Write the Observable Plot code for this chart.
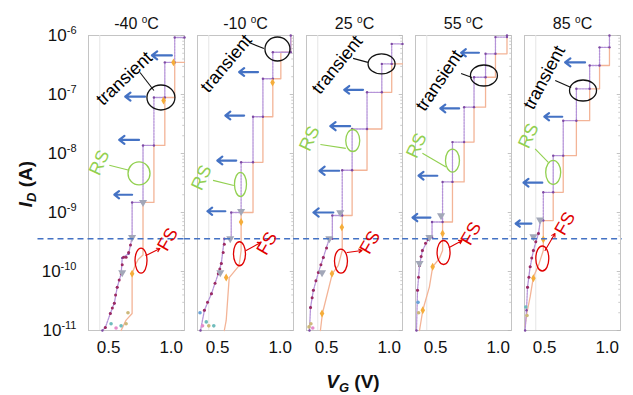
<!DOCTYPE html>
<html><head><meta charset="utf-8">
<script src="https://cdn.jsdelivr.net/npm/d3@7"></script>
<script src="https://cdn.jsdelivr.net/npm/@observablehq/plot@0.6"></script>
<style>body{margin:0;background:#fff;}</style>
</head><body><div id="chart"></div>
<script>
// ---------- data (V_G in volts, I_D in amperes) ----------
const temps = ["-40", "-10", "25", "55", "85"];
const yTicks = [1e-6, 1e-7, 1e-8, 1e-9, 1e-10, 1e-11];
const xTicks = [0.5, 1.0];

// purple (dotted) sweep per temperature
const purpleM40 = [[0.451,1e-11],[0.474,1.12e-11],[0.514,1.94e-11],[0.546,2.9e-11],[0.569,5.4e-11],[0.601,9.2e-11],[0.609,1.7e-10],[0.66,2.0e-10],[0.688,3.8e-10],[0.688,1.48e-9],[0.775,1.48e-9],[0.775,1.37e-8],[0.862,1.37e-8],[0.862,8.9e-8],[0.949,8.9e-8],[0.949,3.5e-7],[1.028,3.5e-7],[1.028,9.25e-7],[1.106,9.25e-7]];
const purpleM10 = [[0.364,1e-11],[0.395,2.2e-11],[0.451,4.2e-11],[0.506,9.2e-11],[0.530,1.37e-10],[0.554,3.6e-10],[0.609,3.6e-10],[0.609,1.0e-9],[0.688,1.0e-9],[0.688,7.1e-9],[0.783,7.1e-9],[0.783,4.2e-8],[0.862,4.2e-8],[0.862,1.85e-7],[0.941,1.85e-7],[0.941,5.2e-7],[1.084,5.2e-7],[1.084,1e-6]];
const purpleP25 = [[0.364,1e-11],[0.372,2.45e-11],[0.395,4.8e-11],[0.435,9.6e-11],[0.474,1.73e-10],[0.522,3.6e-10],[0.546,3.6e-10],[0.546,8.9e-10],[0.625,8.9e-10],[0.625,5.2e-9],[0.704,5.2e-9],[0.704,2.6e-8],[0.823,2.6e-8],[0.823,1.09e-7],[0.941,1.09e-7],[0.941,3.3e-7],[1.020,3.3e-7],[1.020,7.2e-7],[1.106,7.2e-7]];
const purpleP55 = [[0.348,1e-11],[0.356,4.8e-11],[0.372,1.26e-10],[0.395,2.27e-10],[0.451,3.8e-10],[0.472,3.8e-10],[0.472,6.9e-10],[0.556,6.9e-10],[0.556,3.3e-9],[0.635,3.3e-9],[0.635,1.56e-8],[0.728,1.56e-8],[0.728,6.1e-8],[0.807,6.1e-8],[0.807,1.96e-7],[0.899,1.96e-7],[0.899,4.9e-7],[0.978,4.9e-7],[0.978,9.4e-7],[1.07,9.4e-7],[1.07,1e-6]];
const purpleP85 = [[0.345,1e-11],[0.356,2.2e-11],[0.364,5.4e-11],[0.385,1.2e-10],[0.411,2.27e-10],[0.451,4.4e-10],[0.467,7.3e-10],[0.490,7.3e-10],[0.490,2.2e-9],[0.569,2.2e-9],[0.569,9.2e-9],[0.649,9.2e-9],[0.649,3.6e-8],[0.754,3.6e-8],[0.754,1.25e-7],[0.860,1.25e-7],[0.860,3.1e-7],[0.939,3.1e-7],[0.939,6.3e-7],[1.018,6.3e-7],[1.018,1e-6]];

// orange (solid) sweep per temperature
const orangeM40 = [[0.60,1e-11],[0.64,1.5e-11],[0.688,1.94e-11],[0.688,9.2e-11],[0.712,1.26e-10],[0.736,1.6e-10],[0.775,1.9e-10],[0.775,1.48e-9],[0.862,1.48e-9],[0.862,1.37e-8],[0.949,1.37e-8],[0.949,8.9e-8],[1.028,8.9e-8],[1.028,3.5e-7],[1.106,3.5e-7]];
const orangeM10 = [[0.554,1e-11],[0.569,1.48e-11],[0.593,7.9e-11],[0.672,1.26e-10],[0.688,2.27e-10],[0.688,1.0e-9],[0.783,1.0e-9],[0.783,7.1e-9],[0.862,7.1e-9],[0.862,4.2e-8],[0.941,4.2e-8],[0.941,1.85e-7],[1.005,1.85e-7],[1.005,5.2e-7],[1.084,5.2e-7],[1.084,1e-6]];
const orangeP25 = [[0.451,1e-11],[0.467,1.94e-11],[0.546,9.2e-11],[0.593,1.26e-10],[0.625,2.27e-10],[0.625,8.9e-10],[0.704,8.9e-10],[0.704,5.2e-9],[0.823,5.2e-9],[0.823,2.6e-8],[0.941,2.6e-8],[0.941,1.09e-7],[1.020,1.09e-7],[1.020,3.3e-7],[1.106,3.3e-7]];
const orangeP55 = [[0.372,1e-11],[0.398,2.2e-11],[0.451,5.5e-11],[0.477,1.2e-10],[0.530,1.66e-10],[0.556,2.27e-10],[0.556,6.9e-10],[0.635,6.9e-10],[0.635,3.3e-9],[0.728,3.3e-9],[0.728,1.56e-8],[0.807,1.56e-8],[0.807,6.1e-8],[0.899,6.1e-8],[0.899,1.96e-7],[0.978,1.96e-7],[0.978,4.9e-7],[1.07,4.9e-7],[1.07,9.4e-7]];
const orangeP85 = [[0.345,1.2e-11],[0.358,1.94e-11],[0.385,3.7e-11],[0.411,8.1e-11],[0.451,1.26e-10],[0.490,2.27e-10],[0.490,7.3e-10],[0.569,7.3e-10],[0.569,2.2e-9],[0.649,2.2e-9],[0.649,9.2e-9],[0.754,9.2e-9],[0.754,3.6e-8],[0.860,3.6e-8],[0.860,1.25e-7],[0.939,1.25e-7],[0.939,3.1e-7],[1.018,3.1e-7],[1.018,6.3e-7]];

// scattered measurement markers near the bottom
const crimsonPts = [
 ["-40",0.474,1.12e-11],["-40",0.514,1.94e-11],["-40",0.530,2.4e-11],["-40",0.546,2.9e-11],["-40",0.556,4.0e-11],["-40",0.569,5.4e-11],["-40",0.585,7.2e-11],["-40",0.601,9.2e-11],["-40",0.609,1.3e-10],["-40",0.62,1.75e-10],["-40",0.64,1.75e-10],["-40",0.66,2.1e-10],["-40",0.675,2.8e-10],
 ["-10",0.395,2.2e-11],["-10",0.42,3.0e-11],["-10",0.451,4.2e-11],["-10",0.48,6.3e-11],["-10",0.506,9.2e-11],["-10",0.518,1.1e-10],["-10",0.530,1.37e-10],["-10",0.545,2.1e-10],["-10",0.554,2.9e-10],
 ["25",0.372,2.45e-11],["25",0.385,3.6e-11],["25",0.395,4.8e-11],["25",0.415,7e-11],["25",0.435,9.6e-11],["25",0.455,1.3e-10],["25",0.474,1.73e-10],["25",0.50,2.5e-10],
 ["55",0.356,4.8e-11],["55",0.364,8e-11],["55",0.372,1.26e-10],["55",0.385,1.8e-10],["55",0.395,2.27e-10],["55",0.42,3.0e-10],["55",0.44,3.5e-10],
 ["85",0.364,5.4e-11],["85",0.375,8e-11],["85",0.385,1.2e-10],["85",0.398,1.7e-10],["85",0.411,2.27e-10],["85",0.43,3.2e-10],["85",0.451,4.4e-10]];
const grayTriPts = [
 ["-40",0.688,3.8e-10],["-40",0.609,9.6e-11],["-40",0.775,1.48e-9],
 ["-10",0.601,3.6e-10],["-10",0.522,9.6e-11],["-10",0.688,1.05e-9],
 ["25",0.522,3.6e-10],["25",0.609,1.0e-9],["25",0.464,9.6e-11],
 ["55",0.451,3.8e-10],["55",0.544,8.9e-10],["55",0.372,1.37e-10],
 ["85",0.464,7.5e-10],["85",0.411,3.9e-10]];
const orangePts = [
 ["-40",0.688,9.2e-11],["-40",1.018,3.5e-7],["-40",0.939,7.9e-8],
 ["-10",0.688,6.9e-10],["-10",0.569,7.9e-11],["-10",0.939,1.6e-7],
 ["25",0.622,5.6e-10],["25",0.543,9.2e-11],["25",0.464,1.94e-11],
 ["55",0.556,4.4e-10],["55",0.477,1.2e-10],["55",0.398,2.2e-11],
 ["85",0.490,3.5e-10],["85",0.411,7.7e-11]];
const mixedPts = [
 ["-40",0.52,1.3e-11,"teal"],["-40",0.56,1.1e-11,"pink"],["-40",0.64,1.3e-11,"olive"],["-40",0.60,1.2e-11,"teal"],["-40",0.655,2.0e-11,"olive"],
 ["-10",0.38,1.2e-11,"pink"],["-10",0.41,1.4e-11,"teal"],["-10",0.43,1.2e-11,"olive"],["-10",0.47,1.2e-11,"teal"],["-10",0.36,2e-11,"blue"],
 ["25",0.36,1.15e-11,"olive"],["25",0.375,1.3e-11,"olive"],["25",0.39,1.1e-11,"pink"],
 ["55",0.36,3e-11,"blue"],["55",0.365,2e-11,"olive"],
 ["85",0.35,2.5e-11,"teal"],["85",0.36,1.8e-11,"olive"]];

// blue arrows: [temp, start V, end V, I]
const blueArrows = [
 ["-40",1.005,0.846,4.6e-7],["-40",0.791,0.633,9.2e-8],["-40",0.743,0.585,1.7e-8],["-40",0.688,0.546,2.0e-9],
 ["-10",0.823,0.672,2.4e-7],["-10",0.712,0.562,4.4e-8],["-10",0.649,0.498,7.6e-9],["-10",0.562,0.419,1.05e-9],
 ["25",0.791,0.641,1.2e-7],["25",0.688,0.530,2.9e-8],["25",0.601,0.443,5.1e-9],["25",0.554,0.395,1.0e-9],
 ["55",0.846,0.704,5.1e-7],["55",0.688,0.538,5.8e-8],["55",0.514,0.364,4.2e-9],["55",0.459,0.316,8.2e-10],
 ["85",0.823,0.664,3.5e-7],["85",0.641,0.498,4.2e-8],["85",0.482,0.332,3.2e-9],["85",0.395,0.269,6.5e-10]];

// dashed reference level
const dashLevel = 3.6e-10;
const dashSpan = [["-40",-0.063,1.106],["-10",0.237,1.106],["25",0.237,1.106],["55",0.237,1.106],["85",0.237,1.12]];

// annotation anchors: [temp, V, I]
const transientAt = [["-40",0.918,8.9e-8],["-10",0.978,5.9e-7],["25",0.939,3.3e-7],["55",0.886,2.1e-7],["85",0.807,1.17e-7]];
const rsAt = [["-40",0.743,4.6e-9],["-10",0.683,3.0e-9],["25",0.709,1.66e-8],["55",0.635,7.6e-9],["85",0.569,4.8e-9]];
const fsAt = [["-40",0.759,1.53e-10],["-10",0.675,2.0e-10],["25",0.615,1.5e-10],["55",0.564,2.1e-10],["85",0.482,1.66e-10]];
// leader lines: [temp, V1, I1, V2, I2]
const transientLeader = [["-40",0.862,1.17e-7,0.751,2.36e-7],["-10",0.870,6.0e-7,0.751,7.6e-7],["25",0.830,3.5e-7,0.712,4.1e-7],["55",0.791,1.94e-7,0.704,2.27e-7],["85",0.712,1.31e-7,0.585,1.73e-7]];
const rsLeader = [["-40",0.664,5.2e-9,0.506,6.3e-9],["-10",0.630,2.87e-9,0.464,3.5e-9],["25",0.654,1.22e-8,0.451,1.42e-8],["55",0.583,5.9e-9,0.395,1.01e-8],["85",0.530,7.1e-9,0.425,1.2e-8]];
const fsLeader = [["-40",0.799,1.87e-10,0.910,2.45e-10],["-10",0.728,2.27e-10,0.846,3.1e-10],["25",0.664,2.1e-10,0.783,2.27e-10],["55",0.609,2.55e-10,0.712,3.35e-10],["85",0.504,2.27e-10,0.583,4.4e-10]];
// label positions: [temp, V, I]
const transientLabel = [["-40",0.625,1.87e-7],["-10",0.569,3.35e-7],["25",0.585,3.2e-7],["55",0.530,1.73e-7],["85",0.498,1.94e-7]];
const rsLabel = [["-40",0.427,7.0e-9],["-10",0.372,3.9e-9],["25",0.364,1.8e-8],["55",0.348,1.37e-8],["85",0.372,2.0e-8]];
const fsLabel = [["-40",0.973,3.5e-10],["-10",0.894,3.0e-10],["25",0.846,3.1e-10],["55",0.783,4.4e-10],["85",0.664,6.5e-10]];

// ---------- styles ----------
const transientAngle = [-43, -50, -51, -56, -62];
const transientSize = [[14,12.5],[12.5,12],[13.5,10],[13.5,10.5],[13.5,10.5]];
const rsSize = [[11,11.5],[6,12],[7,11],[7,11.5],[7.5,12]];
const fsSize = [[6,12.5],[6,12],[6.5,12],[6.5,12],[6.5,12.5]];
const C = {purple:"#b593d8", purpleDot:"#7e4aa3", orange:"#f3b497", blue:"#4472c4", green:"#92d050", red:"#e00000", crimson:"#9c2a62"};

// ---------- build tables ----------
const purpleBy = {"-40": purpleM40, "-10": purpleM10, "25": purpleP25, "55": purpleP55, "85": purpleP85};
const orangeBy = {"-40": orangeM40, "-10": orangeM10, "25": orangeP25, "55": orangeP55, "85": orangeP85};
const sweepRows = by => temps.flatMap(t => by[t].map(([v, i]) => ({t, v, i})));
const purpleRows = sweepRows(purpleBy), orangeRows = sweepRows(orangeBy);
const pts = arr => arr.map(([t, v, i, k]) => ({t, v, i, k}));
const seg = arr => arr.map(([t, a, ia, b, ib]) => ({t, a, ia, b, ib}));
const minorTicks = [];
for (let e = -11; e < -6; e++) for (let m = 2; m <= 9; m++) minorTicks.push(m * Math.pow(10, e));

function ellipseSymbol(rx, ry) {
  const k = 0.5523;
  return {draw(c) {
    c.moveTo(rx, 0);
    c.bezierCurveTo(rx, ry * k, rx * k, ry, 0, ry);
    c.bezierCurveTo(-rx * k, ry, -rx, ry * k, -rx, 0);
    c.bezierCurveTo(-rx, -ry * k, -rx * k, -ry, 0, -ry);
    c.bezierCurveTo(rx * k, -ry, rx, -ry * k, rx, 0);
    c.closePath();
  }};
}
const ellipses = (list, sizes, color) => list.map(([t, v, i], n) =>
  Plot.dot([{t, v, i}], {fx: "t", x: "v", y: "i", symbol: ellipseSymbol(...sizes[n]), fill: "none", stroke: color, strokeWidth: 1.3}));

const svg = Plot.plot({
  width: 633, height: 395,
  marginLeft: 86, marginRight: 10, marginTop: 35, marginBottom: 65,
  style: {fontFamily: "'Liberation Sans', Arial, sans-serif", fontSize: "17px", color: "#111", background: "#fff", overflow: "visible"},
  fx: {domain: temps, paddingInner: 0.118, paddingOuter: 0, axis: null, label: null},
  x: {domain: [0.34, 1.106], ticks: xTicks, tickFormat: d3.format(".1f"), tickSize: 0, tickPadding: 10, label: null},
  y: {type: "log", domain: [1e-11, 1e-6], ticks: yTicks, tickFormat: d => `10^${Math.round(Math.log10(d))}`, tickSize: 0, tickPadding: 12, label: null},
  marks: [
    Plot.frame({stroke: "#c4c4c4"}),
    Plot.ruleX([0.43], {stroke: "#e6e6e6"}),
    Plot.ruleY(minorTicks, {y: d => d, x1: 1.092, x2: 1.106, stroke: "#c0c0c0", strokeWidth: 0.8}),
    Plot.ruleY(yTicks, {y: d => d, x1: 1.08, x2: 1.106, stroke: "#b5b5b5", strokeWidth: 0.8}),
    Plot.line(orangeRows, {fx: "t", x: "v", y: "i", z: "t", stroke: C.orange, strokeWidth: 1.3}),
    Plot.line(purpleRows, {fx: "t", x: "v", y: "i", z: "t", stroke: C.purple, strokeWidth: 1.3, strokeDasharray: "2,1"}),
    Plot.dot(purpleRows, {fx: "t", x: "v", y: "i", r: 1.2, fill: C.purpleDot}),
    Plot.dot(pts(crimsonPts), {fx: "t", x: "v", y: "i", r: 1.5, fill: C.crimson}),
    Plot.dot(pts(mixedPts), {fx: "t", x: "v", y: "i", r: 1.8, fill: d => ({teal: "#6fbcbc", pink: "#e58ccb", olive: "#cdb87a", blue: "#6aa3d8"})[d.k]}),
    Plot.dot(pts(grayTriPts), {fx: "t", x: "v", y: "i", symbol: "triangle", rotate: 180, r: 3, fill: "#a2a7b8"}),
    Plot.dot(pts(orangePts), {fx: "t", x: "v", y: "i", symbol: "diamond", r: 2.4, fill: "#f5ad3a"}),
    Plot.ruleY(dashSpan.map(([t, a, b]) => ({t, a, b, i: dashLevel})), {fx: "t", y: "i", x1: "a", x2: "b", stroke: C.blue, strokeWidth: 1.5, strokeDasharray: "6,4"}),
    Plot.arrow(blueArrows.map(([t, a, b, i]) => ({t, a, b, i})), {fx: "t", x1: "a", x2: "b", y1: "i", y2: "i", stroke: C.blue, strokeWidth: 2.2, headLength: 6, headAngle: 75}),
    ...ellipses(transientAt, transientSize, "#111"),
    ...ellipses(rsAt, rsSize, C.green),
    ...ellipses(fsAt, fsSize, C.red),
    Plot.link(seg(transientLeader), {fx: "t", x1: "a", y1: "ia", x2: "b", y2: "ib", stroke: "#111", strokeWidth: 1.1}),
    Plot.link(seg(rsLeader), {fx: "t", x1: "a", y1: "ia", x2: "b", y2: "ib", stroke: C.green, strokeWidth: 1.1}),
    Plot.arrow(seg(fsLeader), {fx: "t", x1: "a", y1: "ia", x2: "b", y2: "ib", stroke: C.red, strokeWidth: 1.1, headLength: 5}),
    Plot.text(transientLabel.map(([t, v, i], n) => ({t, v, i, r: transientAngle[n]})), {fx: "t", x: "v", y: "i", text: () => "transient", rotate: "r", fontSize: 18, fill: "#000"}),
    Plot.text(pts(rsLabel), {fx: "t", x: "v", y: "i", text: () => "RS", rotate: -65, fontSize: 18, fill: C.green}),
    Plot.text(pts(fsLabel), {fx: "t", x: "v", y: "i", text: () => "FS", rotate: -60, fontSize: 18, fill: C.red}),
    Plot.text(temps, {fx: d => d, frameAnchor: "top", dy: -18, text: d => `${d} oC`, fontSize: 16, fill: "#111"})
  ]
});

// rich text: superscripts
const s = d3.select(svg);
s.selectAll("text").each(function () {
  const el = d3.select(this);
  const txt = this.textContent;
  let m;
  if ((m = txt.match(/^10\^(.+)$/))) {
    el.text("10");
    el.append("tspan").attr("dy", "-7px").attr("font-size", "11px").text(m[1]);
  } else if ((m = txt.match(/^(.+) oC$/))) {
    el.text(m[1] + " ");
    el.append("tspan").attr("dy", "-6px").attr("font-size", "10px").text("o");
    el.append("tspan").attr("dy", "6px").text("C");
  }
});
// axis titles
const yl = s.append("text").attr("transform", "translate(32,184) rotate(-90)").attr("text-anchor", "middle")
  .attr("font-size", 19).attr("font-weight", "bold").attr("fill", "#111");
yl.append("tspan").attr("font-style", "italic").text("I");
yl.append("tspan").attr("font-style", "italic").attr("font-size", 13).attr("dy", 4).text("D");
yl.append("tspan").attr("dy", -4).text(" (A)");
const xl = s.append("text").attr("x", 353).attr("y", 388).attr("text-anchor", "middle")
  .attr("font-size", 19).attr("font-weight", "bold").attr("fill", "#111");
xl.append("tspan").attr("font-style", "italic").text("V");
xl.append("tspan").attr("font-style", "italic").attr("font-size", 13).attr("dy", 4).text("G");
xl.append("tspan").attr("dy", -4).text(" (V)");

document.getElementById("chart").appendChild(svg);
</script></body></html>
